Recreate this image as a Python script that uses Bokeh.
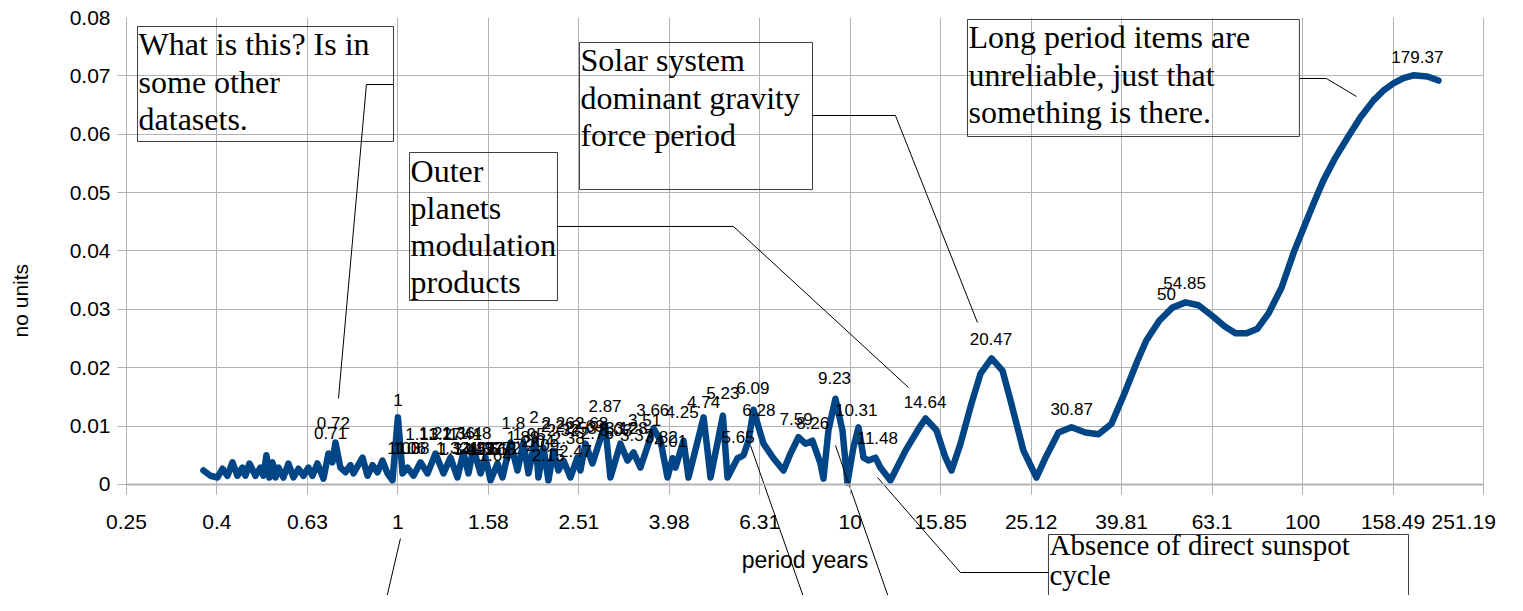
from bokeh.plotting import figure
from bokeh.models import FixedTicker, Range1d
from bokeh.core.properties import value
from bokeh.embed import file_html
from bokeh.resources import INLINE

# ---------------- data ----------------
period = [0.3717, 0.3851, 0.3991, 0.4094, 0.4200, 0.4308, 0.4419, 0.4533, 0.4602, 0.4697,
          0.4843, 0.4968, 0.5044, 0.5121, 0.5200, 0.5280, 0.5361, 0.5444, 0.5584, 0.5728,
          0.5876, 0.6027, 0.6182, 0.6342, 0.6472, 0.6639, 0.6845, 0.7021, 0.7166, 0.7276,
          0.7464, 0.7656, 0.7853, 0.7977, 0.8351, 0.8566, 0.8787, 0.9014, 0.9246, 0.9484,
          0.9729, 1.000, 1.024, 1.050, 1.083, 1.122, 1.163, 1.211, 1.261, 1.307,
          1.354, 1.396, 1.432, 1.469, 1.523, 1.562, 1.602, 1.660, 1.703, 1.774,
          1.838, 1.895, 1.944, 2.014, 2.045, 2.098, 2.152, 2.207, 2.264, 2.323,
          2.407, 2.494, 2.532, 2.598, 2.692, 2.870, 2.950, 3.104, 3.218, 3.318,
          3.438, 3.673, 3.807, 3.945, 4.047, 4.109, 4.280, 4.390, 4.740, 4.836,
          4.910, 5.230, 5.354, 5.634, 5.808, 5.958, 6.111, 6.430, 6.765, 7.119,
          7.377, 7.683, 7.962, 8.251, 8.594, 8.726, 8.950, 9.274, 9.611, 9.859,
          10.16, 10.43, 10.70, 10.97, 11.37, 11.66, 12.27, 13.25, 14.23, 14.67,
          15.51, 16.24, 16.75, 17.53, 18.54, 19.41, 20.53, 21.71, 22.61, 24.15,
          25.81, 27.02, 28.86, 30.84, 33.12, 35.38, 37.80, 40.38, 43.15, 45.17,
          48.26, 51.56, 55.11, 58.88, 62.90, 67.21, 71.08, 75.17, 79.50, 84.08,
          89.83, 95.96, 100.0, 105.7, 111.2, 118.2, 125.7, 134.3, 143.5, 151.0,
          158.8, 167.1, 175.8, 188.8, 199.7]
amplitude = [0.0024, 0.0015, 0.0012, 0.0027, 0.0015, 0.0038, 0.0015, 0.0029, 0.0015, 0.0036,
             0.0015, 0.0029, 0.0015, 0.0050, 0.0012, 0.0038, 0.0012, 0.0029, 0.0012, 0.0036,
             0.0012, 0.0027, 0.0015, 0.0029, 0.0015, 0.0036, 0.0010, 0.0053, 0.0038, 0.0072,
             0.0029, 0.0021, 0.0033, 0.0019, 0.0046, 0.0015, 0.0033, 0.0021, 0.0041, 0.0019,
             0.0007, 0.0115, 0.0019, 0.0029, 0.0015, 0.0038, 0.0019, 0.0053, 0.0019, 0.0046,
             0.0012, 0.0055, 0.0019, 0.0062, 0.0019, 0.0046, 0.0007, 0.0036, 0.0012, 0.0072,
             0.0024, 0.0072, 0.0019, 0.0079, 0.0012, 0.0063, 0.0007, 0.0058, 0.0024, 0.0041,
             0.0012, 0.0046, 0.0024, 0.0070, 0.0036, 0.0103, 0.0012, 0.0070, 0.0041, 0.0055,
             0.0029, 0.0096, 0.0075, 0.0012, 0.0045, 0.0029, 0.0075, 0.0012, 0.0115, 0.0058,
             0.0012, 0.0118, 0.0012, 0.0045, 0.0050, 0.0075, 0.0128, 0.0070, 0.0045, 0.0024,
             0.0053, 0.0081, 0.0070, 0.0075, 0.0036, 0.0010, 0.0093, 0.0147, 0.0093, 0.0003,
             0.0063, 0.0098, 0.0046, 0.0041, 0.0046, 0.0029, 0.0007, 0.0058, 0.0098, 0.0113,
             0.0093, 0.0046, 0.0024, 0.0070, 0.0139, 0.0190, 0.0216, 0.0195, 0.0144, 0.0058,
             0.0012, 0.0046, 0.0089, 0.0098, 0.0089, 0.0086, 0.0104, 0.0156, 0.0212, 0.0247,
             0.0281, 0.0303, 0.0312, 0.0307, 0.0290, 0.0271, 0.0259, 0.0259, 0.0267, 0.0293,
             0.0337, 0.0401, 0.0435, 0.0481, 0.0521, 0.0560, 0.0594, 0.0629, 0.0658, 0.0675,
             0.0687, 0.0696, 0.0701, 0.0699, 0.0692]

label_text = ["0.71", "0.72", "1", "1.03", "1.06", "1.08", "1.13", "1.21", "1.27", "1.32",
              "1.34", "1.36", "1.41", "1.44", "1.48", "1.51", "1.55", "1.57", "1.61", "1.64",
              "1.68", "1.72", "1.8", "1.89", "1.95", "2", "2.04", "2.09", "2.15", "2.2",
              "2.26", "2.32", "2.38", "2.47", "2.53", "2.63", "2.68", "2.76", "2.87", "3.03",
              "3.12", "3.28", "3.37", "3.51", "3.66", "3.82", "4.01", "4.25", "4.74", "5.23",
              "5.65", "6.09", "6.28", "7.59", "8.26", "9.23", "10.31", "11.48", "14.64", "20.47",
              "30.87", "50", "54.85", "179.37"]
label_period = [0.71, 0.72, 1.0, 1.03, 1.06, 1.08, 1.13, 1.21, 1.27, 1.32,
                1.34, 1.36, 1.41, 1.44, 1.48, 1.51, 1.55, 1.57, 1.61, 1.64,
                1.68, 1.72, 1.8, 1.89, 1.95, 2.0, 2.04, 2.09, 2.15, 2.2,
                2.26, 2.32, 2.38, 2.47, 2.53, 2.63, 2.68, 2.76, 2.87, 3.03,
                3.12, 3.28, 3.37, 3.51, 3.66, 3.82, 4.01, 4.25, 4.74, 5.23,
                5.65, 6.09, 6.28, 7.59, 8.26, 9.23, 10.31, 11.48, 14.64, 20.47,
                30.87, 50.0, 54.85, 179.37]
label_value = [0.0089, 0.01045, 0.0144, 0.0062, 0.0062, 0.0062, 0.0087, 0.0089, 0.0087, 0.0062,
               0.0060, 0.0089, 0.0087, 0.0062, 0.0089, 0.0062, 0.0060, 0.0062, 0.0060, 0.0050,
               0.0060, 0.0062, 0.0106, 0.0082, 0.0087, 0.0115, 0.0075, 0.0067, 0.0050, 0.0101,
               0.0106, 0.0093, 0.0079, 0.0058, 0.0096, 0.0101, 0.0106, 0.0089, 0.0135, 0.0093,
               0.0096, 0.0096, 0.0084, 0.0110, 0.0127, 0.0081, 0.0075, 0.0125, 0.0141, 0.0156,
               0.0081, 0.0165, 0.0127, 0.0113, 0.0106, 0.0182, 0.0127, 0.0079, 0.0142, 0.0250,
               0.0130, 0.0327, 0.0346, 0.0732]

x_ticks = [0.251189, 0.398107, 0.630957, 1.0, 1.584893, 2.511886, 3.981072, 6.309573,
           10.0, 15.848932, 25.118864, 39.810717, 63.095734, 100.0, 158.489319, 251.188643]
x_tick_labels = ["0.25", "0.4", "0.63", "1", "1.58", "2.51", "3.98", "6.31",
                 "10", "15.85", "25.12", "39.81", "63.1", "100", "158.49",
                 "251.19\u00a0\u00a0"]
y_ticks = [0.0, 0.01, 0.02, 0.03, 0.04, 0.05, 0.06, 0.07, 0.08]
y_tick_labels = ["0", "0.01", "0.02", "0.03", "0.04", "0.05", "0.06", "0.07", "0.08"]

note_text = ["What is this? Is in\nsome other\ndatasets.",
             "Outer\nplanets\nmodulation\nproducts",
             "Solar system\ndominant gravity\nforce period",
             "Long period items are\nunreliable, just that\nsomething is there."]
note_left = [0.2657, 1.061, 2.520, 18.16]
note_right = [0.978, 2.253, 8.253, 98.4]
note_top = [0.07846, 0.05687, 0.07572, 0.07966]
note_bottom = [0.05876, 0.03152, 0.05053, 0.05961]

low_note_text = ["Absence of direct sunspot\ncycle"]
low_note_left = [27.43]
low_note_right = [171.5]
low_note_top = [-0.008565]
low_note_bottom = [-0.02141]

leader_x = [[0.978, 0.852, 0.739], [2.253, 5.519, 13.45], [8.253, 12.59, 19.11],
            [98.4, 112.9, 131.6], [27.43, 17.52, 11.49],
            [6.019, 8.088], [9.277, 12.46], [1.013, 0.929]]
leader_y = [[0.06852, 0.06852, 0.01473], [0.0442, 0.0442, 0.01662], [0.06321, 0.06321, 0.02775],
            [0.06955, 0.06955, 0.06647], [-0.015075, -0.015075, 0.0012],
            [0.00668, -0.02176], [0.00668, -0.02176], [-0.00925, -0.02176]]

# ---------------- figure ----------------
GRID = "#b3b3b3"
p = figure(width=1507, height=595, x_axis_type="log",
           x_range=Range1d(0.22005, 283.83), y_range=Range1d(-0.019015, 0.08),
           output_backend="svg", toolbar_location=None,
           min_border_left=100, min_border_right=0, min_border_top=17, min_border_bottom=0)
p.outline_line_color = None
p.background_fill_color = "white"

xa = p.xaxis[0]
xa.fixed_location = 0
xa.bounds = (x_ticks[0], x_ticks[-1])
xa.ticker = FixedTicker(ticks=x_ticks)
xa.major_label_overrides = {t: l for t, l in zip(x_ticks, x_tick_labels)}
xa.axis_line_color = GRID
xa.axis_line_width = 2
xa.major_tick_line_color = GRID
xa.major_tick_out = 10
xa.major_tick_in = 0
xa.minor_tick_line_color = None
xa.major_label_standoff = 16
xa.major_label_text_font = "Liberation Sans"
xa.major_label_text_font_size = "21px"
xa.major_label_text_color = "black"
xa.axis_label = "period years"
xa.axis_label_text_font = "Liberation Sans"
xa.axis_label_text_font_size = "23px"
xa.axis_label_text_font_style = "normal"
xa.axis_label_text_color = "black"
xa.axis_label_standoff = 10

ya = p.yaxis[0]
ya.ticker = FixedTicker(ticks=y_ticks)
ya.major_label_overrides = {t: l for t, l in zip(y_ticks, y_tick_labels)}
ya.bounds = (0, 0.08)
ya.axis_line_color = None
ya.major_tick_line_color = None
ya.major_tick_out = 0
ya.major_tick_in = 0
ya.minor_tick_line_color = None
ya.major_label_standoff = -10
ya.major_label_text_font = "Liberation Sans"
ya.major_label_text_font_size = "21px"
ya.major_label_text_color = "black"
ya.axis_label = "\u00a0\u00a0no units"
ya.axis_label_text_font = "Liberation Sans"
ya.axis_label_text_font_size = "21px"
ya.axis_label_text_font_style = "normal"
ya.axis_label_text_color = "black"
ya.axis_label_standoff = 35

for g in (p.xgrid[0], p.ygrid[0]):
    g.grid_line_color = GRID
    g.grid_line_width = 1
if "cross_bounds" in p.xgrid[0].properties():
    p.xgrid[0].cross_bounds = (0, 0.08)
    p.ygrid[0].cross_bounds = (0.23988, x_ticks[-1])

p.line(period, amplitude, line_color="#004586", line_width=6.5,
       line_join="round", line_cap="round")

p.text(x=label_period, y=label_value, text=label_text, text_align="center",
       text_baseline="middle", text_font=value("Liberation Sans"),
       text_font_size="17px", text_color="black")

p.quad(left=note_left + low_note_left, right=note_right + low_note_right,
       top=note_top + low_note_top, bottom=note_bottom + low_note_bottom,
       fill_color=None, line_color="#3c3c3c", line_width=1)
p.text(x=note_left, y=note_top, text=note_text, text_align="left", text_baseline="top",
       text_font=value("Liberation Serif"), text_font_size="32px", text_line_height=1.03,
       text_color="black", x_offset=1, y_offset=0)
p.text(x=low_note_left, y=low_note_top, text=low_note_text, text_align="left",
       text_baseline="top", text_font=value("Liberation Serif"), text_font_size="29px",
       text_line_height=0.92, text_color="black", x_offset=1, y_offset=-5)
p.multi_line(leader_x, leader_y, line_color="black", line_width=1)

open("out.html", "w").write(file_html(p, INLINE))
